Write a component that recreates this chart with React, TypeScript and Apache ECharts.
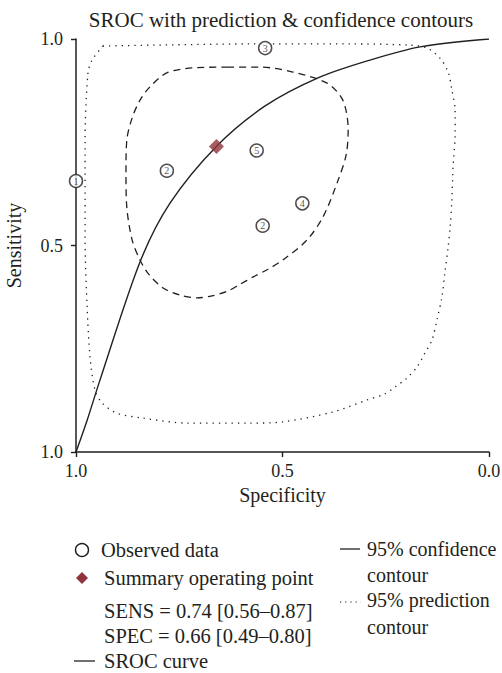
import React, { useEffect, useRef } from "react";
import * as echarts from "echarts";

// ---- Data ----
// x axis shows Specificity running from 1.0 (left) to 0.0 (right)
const xTickLabels = ["1.0", "0.5", "0.0"]; // left to right
const yTickLabels = ["1.0", "0.5", "1.0"]; // bottom to top (as printed)

const obsSpec = [1.0, 0.542, 0.78, 0.5625, 0.452, 0.548];
const obsSens = [0.656, 0.978, 0.681, 0.73, 0.602, 0.548];
const obsCount = [1, 3, 2, 5, 4, 2];

const summarySpec = [0.66];
const summarySens = [0.74];

const srocSpec = [1.0, 0.973, 0.942, 0.845, 0.772, 0.659, 0.542, 0.414, 0.288, 0.167, 0.0];
const srocSens = [0.0, 0.077, 0.174, 0.46, 0.603, 0.741, 0.838, 0.906, 0.949, 0.981, 1.0];

const confSpec = [0.634, 0.554, 0.475, 0.392, 0.354, 0.341, 0.346, 0.368, 0.402, 0.441, 0.499, 0.536, 0.571, 0.603, 0.634, 0.671, 0.707, 0.748, 0.789, 0.826, 0.845, 0.864, 0.877, 0.879, 0.877, 0.864, 0.845, 0.821, 0.78, 0.717, 0.634];
const confSens = [0.932, 0.932, 0.92, 0.893, 0.852, 0.78, 0.719, 0.651, 0.569, 0.513, 0.465, 0.442, 0.424, 0.406, 0.389, 0.378, 0.373, 0.38, 0.397, 0.433, 0.465, 0.513, 0.593, 0.676, 0.755, 0.809, 0.852, 0.884, 0.918, 0.93, 0.932];

const predSpec = [0.935, 0.821, 0.579, 0.337, 0.191, 0.15, 0.119, 0.099, 0.09, 0.082, 0.082, 0.087, 0.09, 0.094, 0.099, 0.107, 0.114, 0.126, 0.138, 0.155, 0.174, 0.199, 0.228, 0.254, 0.295, 0.378, 0.499, 0.579, 0.731, 0.838, 0.901, 0.937, 0.954, 0.966, 0.973, 0.978, 0.978, 0.971, 0.961, 0.935];
const predSens = [0.983, 0.985, 0.988, 0.988, 0.985, 0.978, 0.954, 0.92, 0.877, 0.828, 0.772, 0.69, 0.61, 0.545, 0.496, 0.433, 0.375, 0.32, 0.271, 0.24, 0.206, 0.179, 0.157, 0.14, 0.126, 0.097, 0.073, 0.07, 0.07, 0.082, 0.094, 0.119, 0.15, 0.23, 0.351, 0.513, 0.755, 0.918, 0.949, 0.983];

const titleText = "SROC with prediction & confidence contours";
const sensText = "SENS = 0.74 [0.56\u20130.87]";
const specText = "SPEC = 0.66 [0.49\u20130.80]";

const INK = "#231f20";
const RED = "#8e343a";
const FONT = "Liberation Serif";

// x position on the axis = 1 - specificity (so 1.0 sits on the left)
const zip = (spec: number[], sens: number[]) => spec.map((v, i) => [1 - v, sens[i]]);

export default function App() {
  const ref = useRef<HTMLDivElement>(null);
  useEffect(() => {
    if (!ref.current) return;
    const chart = echarts.init(ref.current, null, { renderer: "svg" });
    const txt = (text: string, x: number, y: number, size = 20.5, align = "left") => ({
      type: "text",
      x,
      y,
      style: { text, fill: INK, fontFamily: FONT, fontSize: size, align, verticalAlign: "middle" },
    });
    chart.setOption({
      animation: false,
      backgroundColor: "#fff",
      grid: { left: 76, top: 39, width: 413, height: 413, outerBoundsMode: "none", containLabel: false },
      xAxis: {
        type: "value",
        position: "bottom",
        min: 0,
        max: 1,
        interval: 0.5,
        name: "Specificity",
        nameLocation: "middle",
        nameGap: 31,
        nameTextStyle: { fontFamily: FONT, fontSize: 20, color: INK },
        axisLine: { show: true, onZero: false, lineStyle: { color: INK, width: 1.5 } },
        axisTick: { show: true, inside: false, length: 5, lineStyle: { color: INK, width: 1.4 } },
        splitLine: { show: false },
        axisLabel: {
          show: true,
          fontFamily: FONT,
          fontSize: 18,
          color: INK,
          margin: 10,
          formatter: (v: number) => xTickLabels[Math.round(v / 0.5)],
        },
      },
      yAxis: {
        type: "value",
        position: "left",
        min: 0,
        max: 1,
        interval: 0.5,
        name: "Sensitivity",
        nameLocation: "middle",
        nameGap: 52,
        nameRotate: 90,
        nameTextStyle: { fontFamily: FONT, fontSize: 20, color: INK },
        axisLine: { show: true, onZero: false, lineStyle: { color: INK, width: 1.5 } },
        axisTick: { show: true, inside: false, length: 5, lineStyle: { color: INK, width: 1.4 } },
        splitLine: { show: false },
        axisLabel: {
          show: true,
          fontFamily: FONT,
          fontSize: 18,
          color: INK,
          margin: 13,
          formatter: (v: number) => yTickLabels[Math.round(v / 0.5)],
        },
      },
      series: [
        {
          type: "line",
          data: zip(predSpec, predSens),
          smooth: 0.3,
          symbol: "none",
          lineStyle: { color: INK, width: 1.3, type: [1.3, 5] },
          z: 2,
        },
        {
          type: "line",
          data: zip(confSpec, confSens),
          smooth: 0.3,
          symbol: "none",
          lineStyle: { color: INK, width: 1.3, type: [7, 5] },
          z: 2,
        },
        {
          type: "line",
          data: zip(srocSpec, srocSens),
          smooth: 0.3,
          symbol: "none",
          lineStyle: { color: INK, width: 1.4 },
          z: 3,
        },
        {
          type: "scatter",
          clip: false,
          data: obsSpec.map((s, i) => ({ value: [1 - s, obsSens[i]], label: { formatter: String(obsCount[i]) } })),
          symbol: "circle",
          symbolSize: 13,
          itemStyle: { color: "#fff", borderColor: INK, borderWidth: 1.5 },
          label: { show: true, position: "inside", fontFamily: FONT, fontSize: 10, color: INK },
          z: 4,
        },
        {
          type: "scatter",
          data: zip(summarySpec, summarySens),
          symbol: "diamond",
          symbolSize: 15,
          itemStyle: { color: RED },
          z: 5,
        },
      ],
      graphic: [
        txt(titleText, 281, 20, 21, "center"),
        { type: "circle", shape: { cx: 82, cy: 550, r: 6.5 }, style: { fill: "#fff", stroke: INK, lineWidth: 1.4 } },
        txt("Observed data", 101, 550),
        {
          type: "polygon",
          shape: { points: [[82, 572], [88, 578], [82, 584], [76, 578]] },
          style: { fill: RED },
        },
        txt("Summary operating point", 104, 578),
        txt(sensText, 104, 611),
        txt(specText, 104, 636),
        { type: "line", shape: { x1: 74, y1: 661, x2: 95, y2: 661 }, style: { stroke: INK, lineWidth: 1.3 } },
        txt("SROC curve", 104, 661),
        { type: "line", shape: { x1: 340, y1: 549, x2: 360, y2: 549 }, style: { stroke: INK, lineWidth: 1.3 } },
        txt("95% confidence", 367, 549, 20),
        txt("contour", 367, 575, 20),
        {
          type: "line",
          shape: { x1: 340, y1: 602, x2: 361, y2: 602 },
          style: { stroke: INK, lineWidth: 1.2, lineDash: [1.2, 4] },
        },
        txt("95% prediction", 367, 600, 20),
        txt("contour", 367, 627, 20),
      ],
    });
    return () => chart.dispose();
  }, []);
  return (
    <div
      ref={ref}
      style={{ position: "fixed", left: 0, top: 0, width: 502, height: 673, background: "#fff" }}
    />
  );
}
